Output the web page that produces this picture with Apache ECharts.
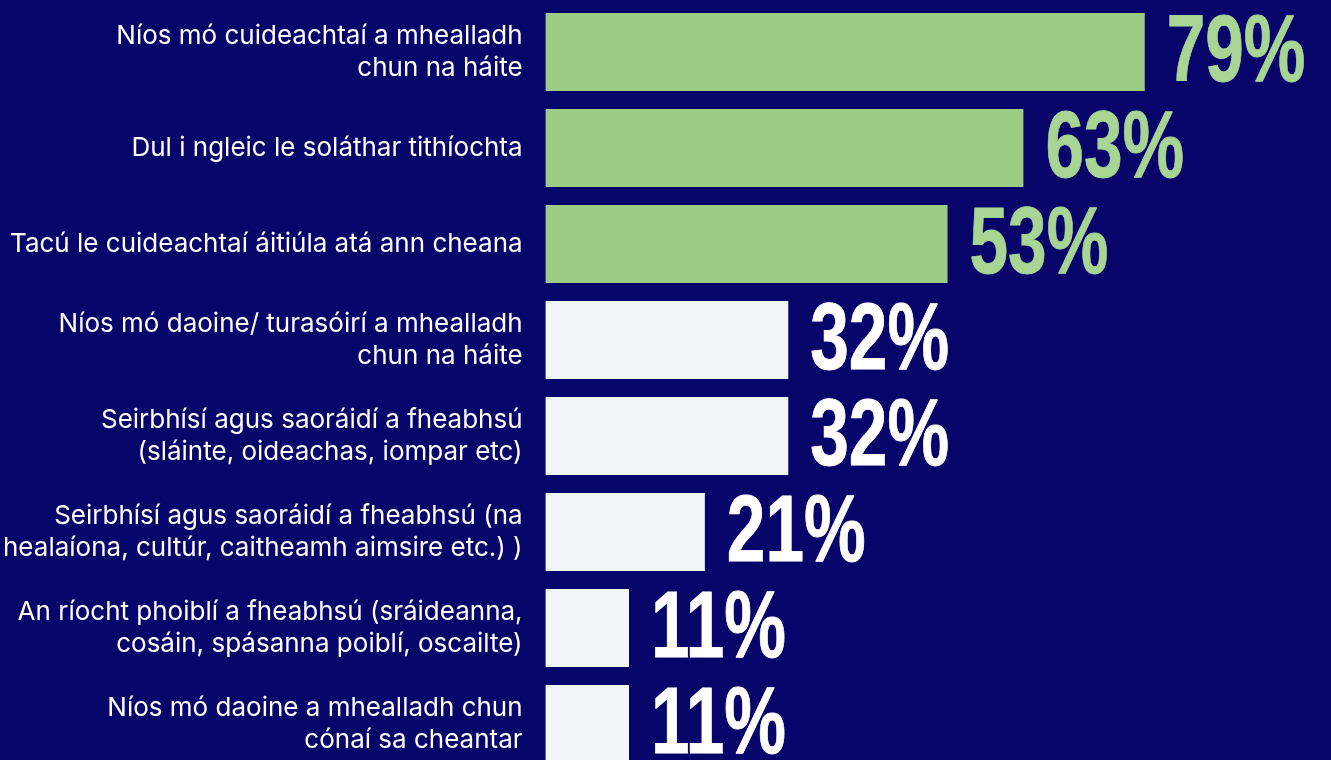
<!DOCTYPE html>
<html>
<head>
<meta charset="utf-8">
<script src="https://cdn.jsdelivr.net/npm/echarts@6/dist/echarts.min.js"></script>
<style>
  html, body { margin: 0; padding: 0; background: #07056a; overflow: hidden; }
  #chart { width: 1331px; height: 772px; }
</style>
</head>
<body>
<div id="chart"></div>
<script>
const categories = [
    'Níos mó cuideachtaí a mhealladh\nchun na háite',
    'Dul i ngleic le soláthar tithíochta',
    'Tacú le cuideachtaí áitiúla atá ann cheana',
    'Níos mó daoine/ turasóirí a mhealladh\nchun na háite',
    'Seirbhísí agus saoráidí a fheabhsú\n(sláinte, oideachas, iompar etc)',
    'Seirbhísí agus saoráidí a fheabhsú (na\nhealaíona, cultúr, caitheamh aimsire etc.) )',
    'An ríocht phoiblí a fheabhsú (sráideanna,\ncosáin, spásanna poiblí, oscailte)',
    'Níos mó daoine a mhealladh chun\ncónaí sa cheantar'
]
const values = [79, 63, 53, 32, 32, 21, 11, 11]
const topCount = 3

const greenBar = '#9ccc84'
const greenText = '#a8d594'
const whiteBar = '#f1f6fa'
const whiteText = '#ffffff'

let chartDom = document.getElementById('chart')
let myChart = echarts.init(chartDom)

let barData = values.map((v, i) => ({
    value: v,
    itemStyle: {color: i < topCount ? greenBar : whiteBar}
}))
// label points: [value, category index]
let labelData = values.map((v, i) => [v, i])

// big condensed percentage next to each bar
function renderLabel(params, api) {
    let idx = api.value(1)
    let p = api.coord([api.value(0), idx])
    let col = idx < topCount ? greenText : whiteText
    return {
        type: 'text',
        x: p[0] + 22,
        y: p[1] + 3,
        scaleX: 0.73,
        style: {
            text: api.value(0) + '%',
            x: 0,
            y: 0,
            fill: col,
            stroke: col,
            lineWidth: 0.8,
            font: 'bold 95px "Liberation Sans", Arial, sans-serif',
            align: 'left',
            verticalAlign: 'middle'
        }
    }
}

myChart.setOption({
    backgroundColor: '#07056a',
    animation: false,
    grid: {left: 544, top: 4, width: 760, height: 768, containLabel: false},
    xAxis: {
        type: 'value',
        min: 0,
        max: 100,
        show: false
    },
    yAxis: {
        type: 'category',
        data: categories,
        inverse: true,
        axisLine: {show: false},
        axisTick: {show: false},
        axisLabel: {
            margin: 23,
            align: 'right',
            color: '#ffffff',
            fontFamily: 'Inter, sans-serif',
            fontSize: 26,
            lineHeight: 32
        }
    },
    series: [{
        type: 'bar',
        data: barData,
        barCategoryGap: '19%'
    }, {
        type: 'custom',
        data: labelData,
        encode: {x: 0, y: 1},
        renderItem: renderLabel,
        clip: false
    }]
})

window.addEventListener('resize', () => {
    myChart.resize()
})
</script>
</body>
</html>
